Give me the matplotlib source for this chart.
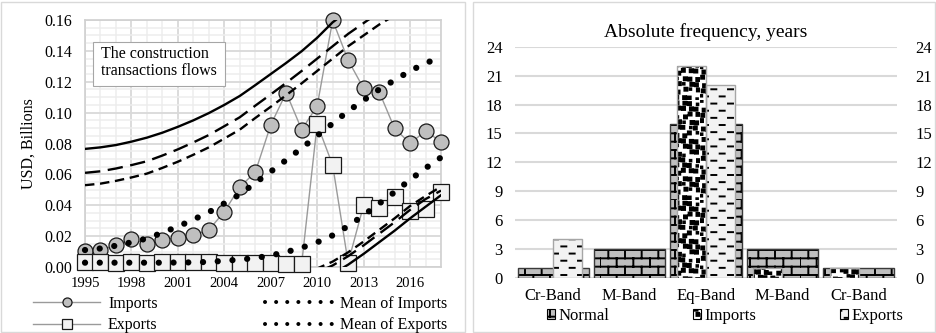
import numpy as np
import matplotlib
matplotlib.use("Agg")
import matplotlib.pyplot as plt
import matplotlib.hatch as mhatch
from matplotlib.path import Path
from matplotlib.lines import Line2D
from matplotlib.patches import Patch, Rectangle
from matplotlib.ticker import MultipleLocator, FuncFormatter

# ---------------------------------------------------------------- data
years = list(range(1995, 2019))
imports = [0.0106, 0.0110, 0.0140, 0.0183, 0.0151, 0.0175, 0.0190, 0.0207,
           0.0240, 0.0358, 0.0518, 0.0614, 0.0920, 0.1129, 0.0890, 0.1043,
           0.1598, 0.1340, 0.1157, 0.1136, 0.0898, 0.0801, 0.0880, 0.0812]
exports = [0.0030, 0.0030, 0.0028, 0.0030, 0.0028, 0.0032, 0.0030, 0.0030,
           0.0030, 0.0028, 0.0028, 0.0026, 0.0024, 0.0022, 0.0022, 0.0926,
           0.0660, 0.0028, 0.0400, 0.0385, 0.0455, 0.0360, 0.0375, 0.0486]
mean_imports = [0.0110, 0.0120, 0.0138, 0.0160, 0.0185, 0.0222, 0.0262, 0.0307,
                0.0355, 0.0412, 0.0470, 0.0545, 0.0618, 0.0693, 0.0770, 0.0850,
                0.0930, 0.1010, 0.1080, 0.1150, 0.1210, 0.1270, 0.1320, 0.1360]
mean_exports = [0.0028, 0.0028, 0.0028, 0.0028, 0.0028, 0.0028, 0.0029, 0.0030,
                0.0033, 0.0040, 0.0048, 0.0058, 0.0075, 0.0097, 0.0125, 0.0160,
                0.0205, 0.0265, 0.0335, 0.0410, 0.0485, 0.0565, 0.0640, 0.0710]

# upper band limits around the imports mean
upper_solid = [0.0765, 0.0775, 0.0790, 0.0812, 0.0838, 0.0870, 0.0908, 0.0950,
               0.0997, 0.1050, 0.1108, 0.1178, 0.1250, 0.1322, 0.1398, 0.1485,
               0.1585, 0.1660, 0.1730, 0.1800, 0.1860, 0.1920, 0.1970, 0.2010]
upper_long = [0.0610, 0.0620, 0.0638, 0.0660, 0.0685, 0.0722, 0.0762, 0.0807,
              0.0855, 0.0912, 0.0970, 0.1045, 0.1118, 0.1193, 0.1270, 0.1350,
              0.1430, 0.1510, 0.1580, 0.1650, 0.1710, 0.1770, 0.1820, 0.1860]
upper_short = [0.0530, 0.0540, 0.0558, 0.0580, 0.0605, 0.0642, 0.0682, 0.0727,
               0.0775, 0.0832, 0.0890, 0.0965, 0.1038, 0.1113, 0.1190, 0.1270,
               0.1350, 0.1430, 0.1500, 0.1570, 0.1630, 0.1690, 0.1740, 0.1780]

# lower band limits around the exports mean
low_years = list(range(2009, 2019))
lower_short = [-0.0050, -0.0010, 0.0035, 0.0095, 0.0165, 0.0240, 0.0315, 0.0395, 0.0460, 0.0520]
lower_long = [-0.0075, -0.0035, 0.0010, 0.0070, 0.0140, 0.0215, 0.0290, 0.0370, 0.0440, 0.0495]
lower_solid = [-0.0125, -0.0090, -0.0045, 0.0015, 0.0085, 0.0160, 0.0235, 0.0315, 0.0390, 0.0465]

year_ticks = list(range(1995, 2017, 3))

bands = ["Cr-Band", "M-Band", "Eq-Band", "M-Band", "Cr-Band"]
freq_normal = [1, 3, 16, 3, 1]
freq_imports = [0, 0, 22, 1, 1]
freq_exports = [4, 0, 20, 0, 0]
freq_ticks = list(range(0, 25, 3))

# ---------------------------------------------------------------- fill patterns
def _brick_path(rows=12, cols=6):
    verts, codes = [], []
    for r in range(rows):
        y0, y1 = r / rows, (r + 1) / rows
        verts += [(0.0, y0), (1.0, y0)]
        codes += [Path.MOVETO, Path.LINETO]
        shift = 0.5 / cols if r % 2 else 0.0
        for c in range(cols):
            x = c / cols + shift
            verts += [(x, y0), (x, y1)]
            codes += [Path.MOVETO, Path.LINETO]
    return Path(verts, codes)


def _confetti_path(cells=16):
    """Jittered grid of small filled squares (one per cell)."""
    verts, codes = [], []
    step = 1.0 / cells
    for i in range(cells):
        for j in range(cells):
            k = i * cells + j
            s = 0.030 if (k * 7) % 5 else 0.016
            jx = ((k * 7919 + 13) % 101) / 101.0
            jy = ((k * 104729 + 71) % 97) / 97.0
            x = i * step + jx * (step - s)
            y = j * step + jy * (step - s)
            verts += [(x, y), (x + s, y), (x + s, y + s), (x, y + s), (x, y)]
            codes += [Path.MOVETO, Path.LINETO, Path.LINETO, Path.LINETO,
                      Path.CLOSEPOLY]
    return Path(verts, codes)


def _dash_path(rows=14, cols=6, length=0.05):
    verts, codes = [], []
    for r in range(rows):
        y = (r + 0.5) / rows
        shift = 0.5 / cols if r % 2 else 0.0
        for c in range(cols):
            x = c / cols + shift + 0.03
            verts += [(x, y), (x + length, y)]
            codes += [Path.MOVETO, Path.LINETO]
    return Path(verts, codes)


BRICK, CONFETTI, DASHES = "++", "..", "--"
_patterns = {BRICK: _brick_path(), CONFETTI: _confetti_path(), DASHES: _dash_path()}
_stock_get_path = mhatch.get_path


def _get_path(pattern, density=6):
    if pattern in _patterns:
        return _patterns[pattern]
    return _stock_get_path(pattern, density)


mhatch.get_path = _get_path

# ---------------------------------------------------------------- figure
plt.rcParams["font.family"] = ["Liberation Serif", "DejaVu Serif"]
plt.rcParams["hatch.linewidth"] = 1.4

W, H = 937, 333
fig = plt.figure(figsize=(W / 100, H / 100), dpi=100)
fig.patch.set_facecolor("white")


def fig_box(x0, y0, x1, y1):
    """Figure-fraction rectangle from pixel corners (origin top-left)."""
    return [x0 / W, 1 - y1 / H, (x1 - x0) / W, (y1 - y0) / H]


# panel frames
for (x0, x1) in [(1.5, 465.5), (473.5, 935.5)]:
    fig.add_artist(Rectangle((x0 / W, 1.5 / H), (x1 - x0) / W, (H - 3.5) / H,
                             transform=fig.transFigure, fill=False,
                             ec="#d9d9d9", lw=1.0, zorder=0))

# ================================================================ left chart
ax = fig.add_axes(fig_box(85, 20, 441, 267))
ax.set_xlim(1995, 2018)
ax.set_ylim(0, 0.16)
ax.set_xticks(year_ticks)
ax.xaxis.set_minor_locator(MultipleLocator(1))
ax.yaxis.set_major_locator(MultipleLocator(0.02))
ax.yaxis.set_minor_locator(MultipleLocator(0.005))
ax.yaxis.set_major_formatter(FuncFormatter(lambda v, p: f"{v:.2f}"))
ax.grid(which="major", color="#d9d9d9", lw=1.3)
ax.grid(which="minor", color="#ededed", lw=1.1)
ax.set_axisbelow(True)
for s in ax.spines.values():
    s.set_color("#d0d0d0")
    s.set_linewidth(1.2)
ax.tick_params(which="both", length=0)
ax.tick_params(axis="y", labelsize=11.5, pad=9)
ax.tick_params(axis="x", labelsize=10.5, pad=7)
ax.set_ylabel("USD, Billions", fontsize=11.5, labelpad=6)

ax.plot(years, imports, color="#9a9a9a", lw=1.0, marker="o", ms=10.8,
        mfc="#bfbfbf", mec="#1a1a1a", mew=0.9, clip_on=False, zorder=3)
ax.plot(years, exports, color="#9a9a9a", lw=1.0, marker="s", ms=11.3,
        mfc="#f2f2f2", mec="#1a1a1a", mew=0.9, clip_on=False, zorder=4)

dots = dict(color="black", lw=4.5, linestyle=(0, (0.01, 2.35)),
            dash_capstyle="round", zorder=5)
ax.plot(years, mean_imports, clip_on=False, **dots)
ax.plot(years, mean_exports, clip_on=False, **dots)

band = dict(color="black", lw=1.7, zorder=6)
ax.plot(years, upper_solid, **band)
ax.plot(years, upper_long, linestyle=(0, (6.5, 3.2)), **band)
ax.plot(years, upper_short, linestyle=(0, (4.0, 2.4)), **band)
ax.plot(low_years, lower_solid, **band)
ax.plot(low_years, lower_long, linestyle=(0, (6.5, 3.2)), **band)
ax.plot(low_years, lower_short, linestyle=(0, (4.0, 2.4)), **band)

# caption box
fig.add_artist(Rectangle((93 / W, 1 - 86 / H), 132 / W, 44 / H,
                         transform=fig.transFigure, fc="white",
                         ec="#a6a6a6", lw=0.8, zorder=2))
fig.text(101 / W, 1 - 46 / H, "The construction\ntransactions flows",
         ha="left", va="top", fontsize=11.5, linespacing=1.1, zorder=3)

left_handles = [
    Line2D([], [], color="#9a9a9a", lw=1.0, marker="o", ms=6.5,
           mfc="#bfbfbf", mec="#1a1a1a", mew=0.9),
    Line2D([], [], color="#9a9a9a", lw=1.0, marker="s", ms=6.5,
           mfc="#f2f2f2", mec="#1a1a1a", mew=0.9),
    Line2D([], [], color="black", lw=2.9, linestyle=(0, (0.01, 2.75)),
           dash_capstyle="round"),
    Line2D([], [], color="black", lw=2.9, linestyle=(0, (0.01, 2.75)),
           dash_capstyle="round"),
]
fig.legend(left_handles, ["Imports", "Exports", "Mean of Imports", "Mean of Exports"],
           ncol=2, loc="upper left", bbox_to_anchor=(33 / W, 1 - 296 / H),
           frameon=False, fontsize=11.5, handlelength=4.2, handletextpad=0.5,
           columnspacing=6.7, labelspacing=0.32, borderpad=0, borderaxespad=0)

# ================================================================ right chart
bx = fig.add_axes(fig_box(515, 46.7, 897, 278))
pos = np.arange(len(bands))
bx.set_xlim(-0.5, len(bands) - 0.5)
bx.set_ylim(0, 24)
bx.set_yticks(freq_ticks)
bx.set_xticks(pos)
bx.set_xticklabels(bands)
bx.grid(axis="y", color="#d9d9d9", lw=1.5)
bx.set_axisbelow(True)
for s in bx.spines.values():
    s.set_visible(False)
bx.tick_params(length=0, labelsize=12)
bx.tick_params(axis="y", pad=9)
bx.tick_params(axis="x", pad=7)
bx.set_title("Absolute frequency, years", fontsize=14, pad=7)

by = bx.twinx()
by.set_ylim(0, 24)
by.set_yticks(freq_ticks)
for s in by.spines.values():
    s.set_visible(False)
by.tick_params(length=0, labelsize=12, pad=13)


def lw_for(vals, w):
    return [w if v > 0 else 0 for v in vals]


# Normal (wide, behind)
bx.bar(pos, freq_normal, width=0.93, color="#bfbfbf", edgecolor="black",
       linewidth=0, hatch=BRICK, zorder=2)
bx.bar(pos, freq_normal, width=0.93, fill=False, edgecolor="#3a3a3a",
       linewidth=1.0, zorder=2.1)
# Imports (left half) and Exports (right half)
bx.bar(pos - 0.19, freq_imports, width=0.38, color="white", edgecolor="black",
       linewidth=0, hatch=CONFETTI, zorder=3)
bx.bar(pos - 0.19, freq_imports, width=0.38, fill=False, edgecolor="#a6a6a6",
       linewidth=lw_for(freq_imports, 1.0), zorder=3.1)
bx.bar(pos + 0.19, freq_exports, width=0.38, color="#f2f2f2", edgecolor="black",
       linewidth=0, hatch=DASHES, zorder=3)
bx.bar(pos + 0.19, freq_exports, width=0.38, fill=False, edgecolor="#a6a6a6",
       linewidth=lw_for(freq_exports, 1.0), zorder=3.1)

right_handles = [
    Patch(facecolor="#bfbfbf", edgecolor="black", hatch=BRICK, lw=0.8),
    Patch(facecolor="white", edgecolor="black", hatch=CONFETTI, lw=0.8),
    Patch(facecolor="#f2f2f2", edgecolor="black", hatch=DASHES, lw=0.8),
]
fig.legend(right_handles, ["Normal", "Imports", "Exports"], ncol=3,
           loc="upper left", bbox_to_anchor=(547 / W, 1 - 308 / H),
           frameon=False, fontsize=12, handlelength=0.5, handleheight=0.5,
           handletextpad=0.2, columnspacing=5.0, borderpad=0, borderaxespad=0)

fig.savefig("out.png", dpi=100, facecolor="white")
